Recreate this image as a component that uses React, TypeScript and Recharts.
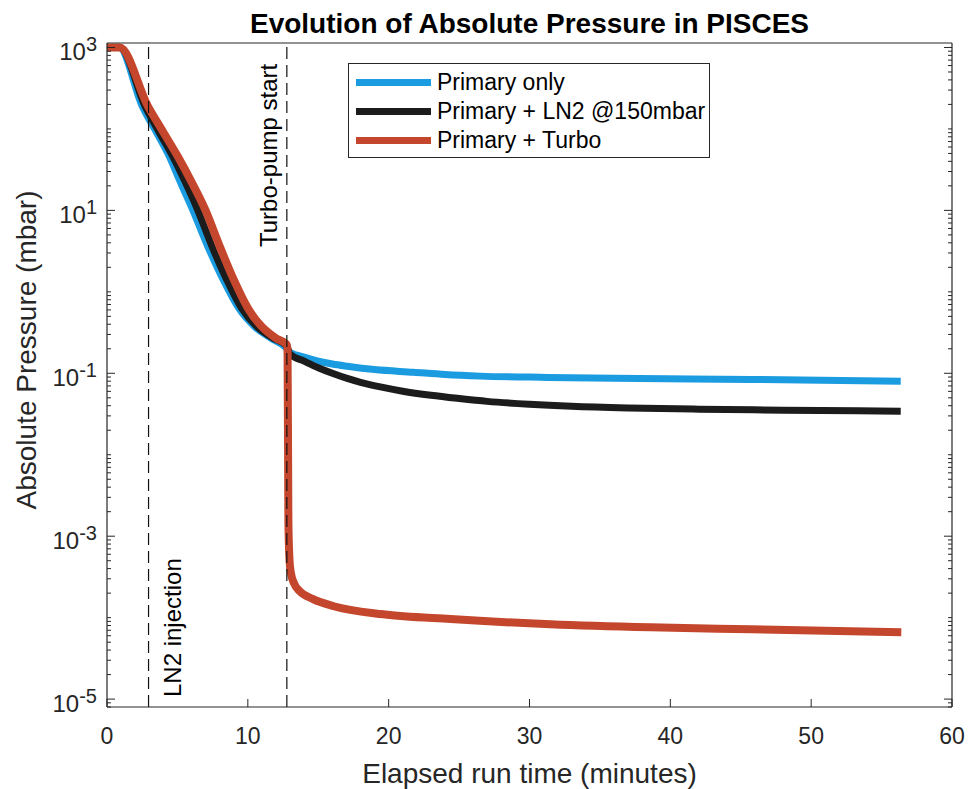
import React from 'react';
import { LineChart, Line, XAxis, YAxis, ReferenceLine, Legend, Label } from 'recharts';

// ---- Data ----
const primaryOnlyTime = [0, 0.85, 2.5, 3.5, 4.4, 5.2, 6.1, 7.15, 8.25, 9.35, 10.5, 11.65, 12.75, 13.0, 14.0, 15.0, 16.0, 17.06, 19.0, 21.75, 24.0, 26.5, 31.3, 36.0, 45.7, 56.36];
const primaryOnlyPressure = [1000, 1000, 190.5, 91.2, 46.8, 22.4, 10.0, 3.63, 1.41, 0.631, 0.372, 0.269, 0.204, 0.181, 0.158, 0.141, 0.130, 0.122, 0.111, 0.103, 0.0966, 0.0923, 0.0891, 0.0869, 0.0841, 0.080];

const ln2Time = [0, 0.9, 2.7, 3.7, 4.65, 5.55, 6.45, 7.45, 8.5, 9.55, 10.65, 11.8, 12.75, 13.0, 14.0, 15.0, 16.0, 17.0, 18.0, 19.5, 21.0, 23.0, 25.0, 27.0, 30.0, 33.0, 37.0, 42.0, 48.0, 56.36];
const ln2Pressure = [1000, 1000, 190.5, 91.2, 46.8, 22.4, 10.0, 3.63, 1.41, 0.631, 0.372, 0.269, 0.219, 0.171, 0.141, 0.117, 0.100, 0.0871, 0.0776, 0.0676, 0.0603, 0.0537, 0.0490, 0.0452, 0.0417, 0.0394, 0.0376, 0.0363, 0.0353, 0.0342];

const turboTime = [0, 0.9, 2.9, 4.0, 5.0, 6.0, 7.0, 8.0, 9.0, 10.0, 11.0, 12.0, 12.75, 12.82, 12.88, 12.95, 13.05, 13.3, 13.7, 14.6, 16.1, 19.6, 24.4, 31.5, 38.6, 45.7, 56.4];
const turboPressure = [1000, 1000, 190.5, 91.2, 46.8, 22.4, 10.0, 3.63, 1.41, 0.631, 0.372, 0.269, 0.226, 0.2, 0.0015, 0.00055, 0.00036, 0.00026, 0.00021, 0.00017, 0.000138, 0.00011, 0.000096, 0.000083, 0.000076, 0.000072, 0.000066];

const seriesNames = ['Primary only', 'Primary + LN2 @150mbar', 'Primary + Turbo'];
const seriesColors = ['#1b9be0', '#1c1c1c', '#c4462c'];

const xTicks = [0, 10, 20, 30, 40, 50, 60];
const xTopTicks = [10, 20, 30, 40, 50];
const yMajorExps = [-5, -3, -1, 1, 3];
const yDomain: [number, number] = [8e-6, 1135];

const ln2InjectionTime = 2.95;
const turboStartTime = 12.77;

const titleText = 'Evolution of Absolute Pressure in PISCES';
const xLabelText = 'Elapsed run time (minutes)';
const yLabelText = 'Absolute Pressure (mbar)';
const ln2LabelText = 'LN2 injection';
const turboLabelText = 'Turbo-pump start';

// ---- Derived tables ----
const zip = (t: number[], p: number[]) => t.map((x, i) => ({ x, y: p[i] }));
const primaryOnlyData = zip(primaryOnlyTime, primaryOnlyPressure);
const ln2Data = zip(ln2Time, ln2Pressure);
const turboData = zip(turboTime, turboPressure);

const yTicks: number[] = [];
for (let k = -6; k <= 3; k++) {
  for (let m = 1; m <= 9; m++) {
    const v = Number((m * Math.pow(10, k)).toPrecision(6));
    if (v >= yDomain[0] && v <= yDomain[1]) yTicks.push(v);
  }
}

const FONT = '"Liberation Sans", Arial, Helvetica, sans-serif';
const AXIS = '#262626';

const isMajor = (v: number) => {
  const e = Math.round(Math.log10(v));
  return yMajorExps.includes(e) && Math.abs(v - Math.pow(10, e)) / v < 1e-6;
};

function LeftYTick(props: any) {
  const { x, y, payload } = props;
  const v = payload.value;
  const major = isMajor(v);
  const e = Math.round(Math.log10(v));
  return (
    <g>
      <line x1={x} x2={x + (major ? 8 : 4)} y1={y} y2={y} stroke={AXIS} strokeWidth={1} />
      {major && (
        <text x={x - 10} y={y + 13} textAnchor="end" fill={AXIS} fontSize={24} fontFamily={FONT}>
          <tspan>10</tspan>
          <tspan dy={-9} fontSize={20}>{String(e)}</tspan>
        </text>
      )}
    </g>
  );
}

function RightYTick(props: any) {
  const { x, y, payload } = props;
  const major = isMajor(payload.value);
  return <line x1={x} x2={x - (major ? 8 : 4)} y1={y} y2={y} stroke={AXIS} strokeWidth={1} />;
}

function BottomXTick(props: any) {
  const { x, y, payload } = props;
  return (
    <g>
      <line x1={x} x2={x} y1={y} y2={y - 8} stroke={AXIS} strokeWidth={1} />
      <text x={x} y={y + 37} textAnchor="middle" fill={AXIS} fontSize={23} fontFamily={FONT}>
        {payload.value}
      </text>
    </g>
  );
}

function TopXTick(props: any) {
  const { x, y } = props;
  return <line x1={x} x2={x} y1={y} y2={y + 8} stroke={AXIS} strokeWidth={1} />;
}

function TitleLabel(props: any) {
  const vb = props.viewBox || { x: 107, width: 845 };
  return (
    <text x={vb.x + vb.width / 2} y={33} textAnchor="middle" fill="#000" fontSize={28} fontWeight="bold" fontFamily={FONT}>
      {titleText}
    </text>
  );
}

function XAxisLabel(props: any) {
  const vb = props.viewBox || { x: 107, width: 845 };
  return (
    <text x={vb.x + vb.width / 2} y={783} textAnchor="middle" fill={AXIS} fontSize={28} fontFamily={FONT}>
      {xLabelText}
    </text>
  );
}

function YAxisLabel(props: any) {
  const vb = props.viewBox || { y: 43, height: 664 };
  const cy = vb.y + vb.height / 2 - 25;
  return (
    <text x={36} y={cy} transform={`rotate(-90, 36, ${cy})`} textAnchor="middle" fill={AXIS} fontSize={28} fontFamily={FONT}>
      {yLabelText}
    </text>
  );
}

function Ln2Label(props: any) {
  const vb = props.viewBox;
  const x = vb.x + 32;
  const y = 697;
  return (
    <text x={x} y={y} transform={`rotate(-90, ${x}, ${y})`} textAnchor="start" fill="#000" fontSize={24} fontFamily={FONT}>
      {ln2LabelText}
    </text>
  );
}

function TurboLabel(props: any) {
  const vb = props.viewBox;
  const x = vb.x - 10;
  const y = 247;
  return (
    <text x={x} y={y} transform={`rotate(-90, ${x}, ${y})`} textAnchor="start" fill="#000" fontSize={24} fontFamily={FONT}>
      {turboLabelText}
    </text>
  );
}

function LegendBox() {
  return (
    <div
      style={{
        width: 362,
        height: 95,
        boxSizing: 'border-box',
        border: `1px solid ${AXIS}`,
        background: '#fff',
        fontFamily: FONT,
        fontSize: 23,
        color: '#000',
        paddingTop: 4,
      }}
    >
      {seriesNames.map((n, i) => (
        <div key={n} style={{ display: 'flex', alignItems: 'center', height: 29 }}>
          <div style={{ width: 75, height: 7, background: seriesColors[i], marginLeft: 7, marginRight: 6 }} />
          <span style={{ lineHeight: '29px' }}>{n}</span>
        </div>
      ))}
    </div>
  );
}

export default function App() {
  return (
    <div style={{ position: 'absolute', left: 0, top: 0, width: 968, height: 789, background: '#fff' }}>
      <LineChart width={968} height={789} margin={{ top: 0, right: 0, bottom: 0, left: 0 }}>
        <XAxis
          xAxisId="bottom"
          dataKey="x"
          type="number"
          domain={[0, 60]}
          ticks={xTicks}
          interval={0}
          orientation="bottom"
          height={82}
          tickSize={0}
          tickMargin={0}
          tickLine={false}
          tick={BottomXTick}
          axisLine={{ stroke: AXIS, strokeWidth: 1.2 }}
        >
          <Label content={XAxisLabel} />
        </XAxis>
        <XAxis
          xAxisId="top"
          dataKey="x"
          type="number"
          domain={[0, 60]}
          ticks={xTopTicks}
          interval={0}
          orientation="top"
          height={43}
          tickSize={0}
          tickMargin={0}
          tickLine={false}
          tick={TopXTick}
          axisLine={{ stroke: AXIS, strokeWidth: 1.2 }}
        >
          <Label content={TitleLabel} />
        </XAxis>
        <YAxis
          yAxisId="left"
          type="number"
          scale="log"
          domain={yDomain}
          allowDataOverflow
          ticks={yTicks}
          interval={0}
          width={107}
          tickSize={0}
          tickMargin={0}
          tickLine={false}
          tick={LeftYTick}
          axisLine={{ stroke: AXIS, strokeWidth: 1.2 }}
        >
          <Label content={YAxisLabel} />
        </YAxis>
        <YAxis
          yAxisId="right"
          orientation="right"
          type="number"
          scale="log"
          domain={yDomain}
          allowDataOverflow
          ticks={yTicks}
          interval={0}
          width={16}
          tickSize={0}
          tickMargin={0}
          tickLine={false}
          tick={RightYTick}
          axisLine={{ stroke: AXIS, strokeWidth: 1.2 }}
        />
        <Line
          xAxisId="bottom"
          yAxisId="left"
          data={primaryOnlyData}
          dataKey="y"
          name={seriesNames[0]}
          type="monotoneX"
          stroke={seriesColors[0]}
          strokeWidth={7}
          dot={false}
          activeDot={false}
          isAnimationActive={false}
        />
        <Line
          xAxisId="bottom"
          yAxisId="left"
          data={ln2Data}
          dataKey="y"
          name={seriesNames[1]}
          type="monotoneX"
          stroke={seriesColors[1]}
          strokeWidth={7}
          dot={false}
          activeDot={false}
          isAnimationActive={false}
        />
        <Line
          xAxisId="bottom"
          yAxisId="left"
          data={turboData}
          dataKey="y"
          name={seriesNames[2]}
          type="monotoneX"
          stroke={seriesColors[2]}
          strokeWidth={8}
          dot={false}
          activeDot={false}
          isAnimationActive={false}
        />
        <ReferenceLine
          xAxisId="bottom"
          yAxisId="left"
          x={ln2InjectionTime}
          stroke="#111"
          strokeWidth={1.2}
          strokeDasharray="12 6"
          label={Ln2Label}
        />
        <ReferenceLine
          xAxisId="bottom"
          yAxisId="left"
          x={turboStartTime}
          stroke="#111"
          strokeWidth={1.2}
          strokeDasharray="12 6"
          label={TurboLabel}
        />
        <Legend
          layout="horizontal"
          verticalAlign="middle"
          align="center"
          wrapperStyle={{ position: 'absolute', left: 348, top: 63, width: 362, height: 95, margin: 0 }}
          content={() => <LegendBox />}
        />
      </LineChart>
    </div>
  );
}
